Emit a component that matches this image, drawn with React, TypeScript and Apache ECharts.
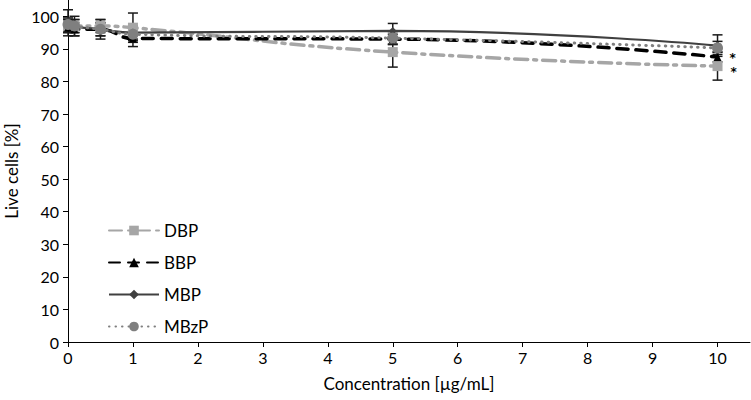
import React, { useEffect, useRef } from "react";
import * as echarts from "echarts";

const concentrations = [0, 0.1, 0.5, 1, 5, 10];
const dbp = [97, 97, 97, 96.5, 89, 84.7];
const bbp = [96.5, 96, 96, 93.2, 93, 87.5];
const mbp = [98.5, 97, 96, 95, 95.5, 91];
const mbzp = [97.5, 97, 96, 94.5, 93.3, 90.3];

const dbpErr = [2, 2, 2, 4.5, 4.6, 4.3];
const bbpErr = [2.5, 2, 2, 2.5, 1.5, 1.5];
const mbpErr = [3.5, 3, 3, 2, 2.3, 3.3];
const mbzpErr = [2, 2, 2, 2, 2, 2];

const yTicks = [0, 10, 20, 30, 40, 50, 60, 70, 80, 90, 100];
const xTicks = [0, 1, 2, 3, 4, 5, 6, 7, 8, 9, 10];

const FONT = "Lato";

export default function App() {
  const ref = useRef<HTMLDivElement>(null);
  useEffect(() => {
    if (!ref.current) return;
    const chart = echarts.init(ref.current, undefined, { renderer: "svg" });

    const mkData = (vals: number[], markOffsetY?: number) =>
      vals.map((v, i) => {
        const item: any = { value: [concentrations[i], v] };
        if (i === vals.length - 1 && markOffsetY !== undefined) {
          item.label = {
            show: true,
            formatter: "*",
            position: "right",
            distance: 8,
            offset: [0, markOffsetY],
            fontSize: 12,
            fontWeight: "bold",
            lineHeight: 12,
            fontFamily: "DejaVu Sans",
            color: "#000",
          };
        }
        return item;
      });

    const errData = (vals: number[], errs: number[]) =>
      vals.map((v, i) => [concentrations[i], v - errs[i], v + errs[i]]);

    const errSeries = (vals: number[], errs: number[]) => ({
      type: "custom",
      silent: true,
      z: 3,
      data: errData(vals, errs),
      encode: { x: 0, y: [1, 2] },
      renderItem: (params: any, api: any) => {
        const x = api.value(0);
        const lo = api.coord([x, api.value(1)]);
        const hi = api.coord([x, api.value(2)]);
        const w = 5;
        const style = { stroke: "#1a1a1a", lineWidth: 1.5 };
        return {
          type: "group",
          children: [
            { type: "line", shape: { x1: lo[0], y1: lo[1], x2: hi[0], y2: hi[1] }, style },
            { type: "line", shape: { x1: lo[0] - w, y1: lo[1], x2: lo[0] + w, y2: lo[1] }, style },
            { type: "line", shape: { x1: hi[0] - w, y1: hi[1], x2: hi[0] + w, y2: hi[1] }, style },
          ],
        };
      },
    });

    chart.setOption({
      animation: false,
      textStyle: { fontFamily: FONT },
      grid: { left: 68, right: 1, top: 0, bottom: 58, containLabel: false, outerBoundsMode: "none" },
      legend: {
        orient: "vertical",
        left: 103,
        top: 217,
        itemWidth: 50,
        itemHeight: 12,
        itemGap: 15,
        textStyle: { fontSize: 17, color: "#000", fontFamily: FONT },
        data: ["DBP", "BBP", "MBP", "MBzP"],
      },
      xAxis: {
        type: "value",
        min: 0,
        max: 10.5,
        interval: 1,
        name: "Concentration [µg/mL]",
        nameLocation: "middle",
        nameGap: 33,
        nameTextStyle: { fontSize: 17, color: "#000", fontFamily: FONT },
        axisLine: { onZero: false, lineStyle: { color: "#000", width: 1 } },
        axisTick: { show: true, length: 5, lineStyle: { color: "#000" }, customValues: xTicks },
        axisLabel: { fontSize: 16, color: "#000", margin: 7, customValues: xTicks, fontFamily: FONT },
        splitLine: { show: false },
      },
      yAxis: {
        type: "value",
        min: 0,
        max: 105,
        interval: 10,
        name: "Live cells [%]",
        nameLocation: "middle",
        nameGap: 48,
        nameTextStyle: { fontSize: 17, color: "#000", fontFamily: FONT },
        axisLine: { show: true, lineStyle: { color: "#000", width: 1 } },
        axisTick: { show: true, length: 5, lineStyle: { color: "#000" }, customValues: yTicks },
        axisLabel: { fontSize: 16, color: "#000", margin: 9, customValues: yTicks, fontFamily: FONT },
        splitLine: { show: false },
      },
      series: [
        {
          name: "DBP",
          type: "line",
          smooth: true,
          data: mkData(dbp, 6),
          symbol: "rect",
          symbolSize: 10,
          z: 4,
          itemStyle: { color: "#a6a6a6" },
          lineStyle: { color: "#a6a6a6", width: 3.5, type: [13, 6, 3, 6], cap: "round" },
        },
        {
          name: "BBP",
          type: "line",
          smooth: true,
          data: mkData(bbp, 1),
          symbol: "triangle",
          symbolSize: 8,
          z: 4,
          itemStyle: { color: "#000" },
          lineStyle: { color: "#000", width: 3.5, type: [11, 8], cap: "round" },
        },
        {
          name: "MBP",
          type: "line",
          smooth: true,
          data: mkData(mbp),
          symbol: "diamond",
          symbolSize: 8,
          z: 4,
          itemStyle: { color: "#404040" },
          lineStyle: { color: "#404040", width: 2.2 },
        },
        {
          name: "MBzP",
          type: "line",
          smooth: true,
          data: mkData(mbzp),
          symbol: "circle",
          symbolSize: 11,
          z: 4,
          itemStyle: { color: "#7f7f7f" },
          lineStyle: { color: "#7f7f7f", width: 3, type: [0.5, 6], cap: "round" },
        },
        errSeries(dbp, dbpErr),
        errSeries(bbp, bbpErr),
        errSeries(mbp, mbpErr),
        errSeries(mbzp, mbzpErr),
      ],
    });
    return () => chart.dispose();
  }, []);
  return <div ref={ref} style={{ width: 751, height: 400, position: "absolute", left: 0, top: 0, background: "#fff" }} />;
}
